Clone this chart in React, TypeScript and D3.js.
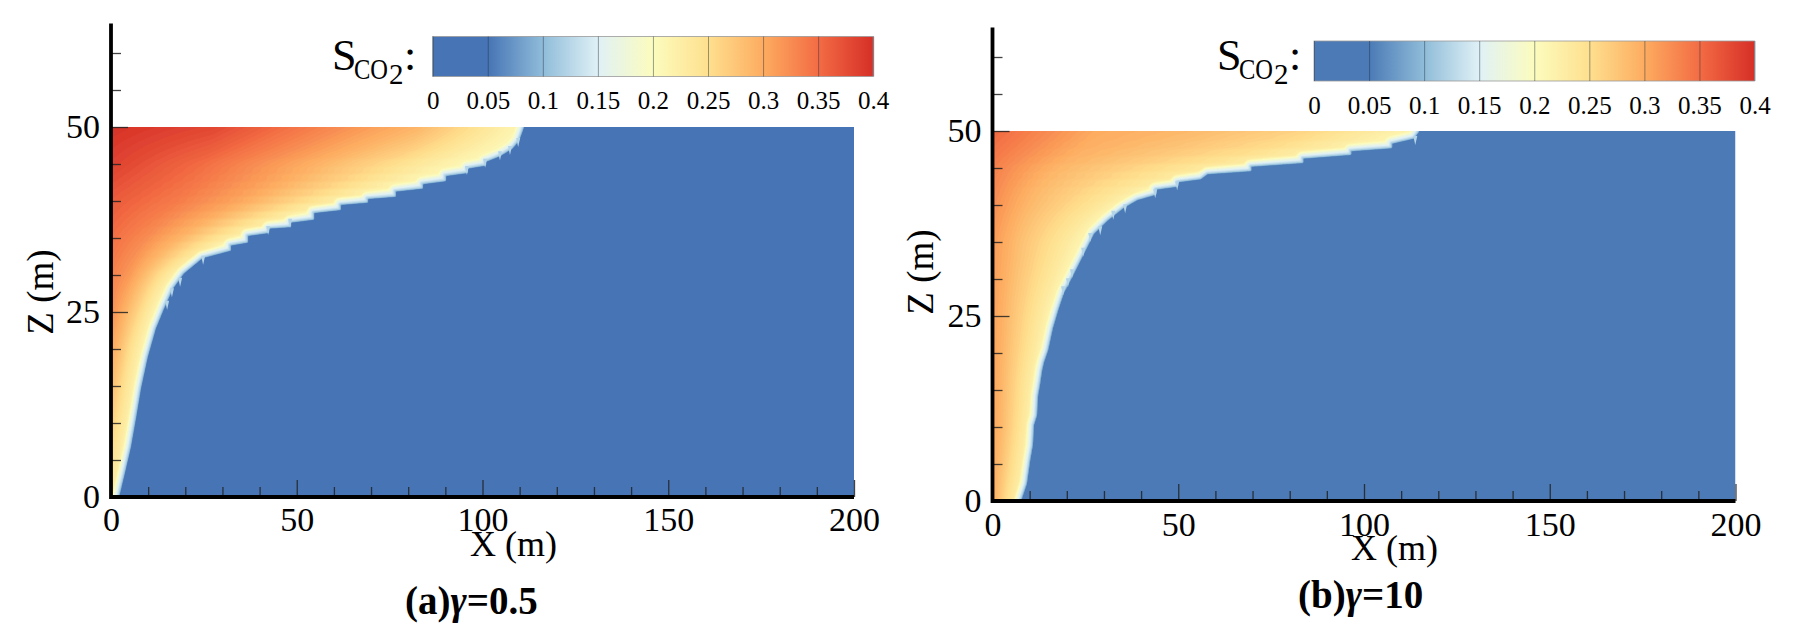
import React, { useEffect, useRef } from 'react';
import * as d3 from 'd3';

// saturation colour bar
const satTicks = [0, 0.05, 0.1, 0.15, 0.2, 0.25, 0.3, 0.35, 0.4];
const satColors = ['#4674b5', '#4674b5', '#8fbcd9', '#e0f1f6', '#fcfcbe', '#fee08f', '#fdac60', '#f36c44', '#d62f27'];

const xMajor = [0, 50, 100, 150, 200];
const xMinor = [10, 20, 30, 40, 60, 70, 80, 90, 110, 120, 130, 140, 160, 170, 180, 190];
const zMajor = [0, 25, 50];
const zMinor = [5, 10, 15, 20, 30, 35, 40, 45, 55, 60];

// fractions of the plume width at which the saturation rows were read
const widthFractions = [0, 0.25, 0.5, 0.75, 1];

// (a) gamma = 0.5
const frontXA = [1.9, 3.2, 5.1, 6.5, 7.8, 9.6, 11.8, 14, 16.4, 19.4, 24.5, 29, 32, 32, 36.6, 36.6, 42.3, 42.3, 48.2, 48.2, 54.4, 54.4, 61.6, 61.6, 68.9, 68.9, 76.4, 76.4, 83.7, 83.7, 89.9, 89.9, 95.8, 95.8, 100.7, 100.7, 104.7, 107.9, 109.6, 110.9];
const frontZA = [0, 2.7, 6.8, 10.8, 14.7, 18.9, 22.8, 25.5, 28.2, 30.3, 32.4, 33, 33.4, 34.1, 34.5, 35.4, 35.8, 36.4, 36.6, 37.2, 37.6, 38.5, 38.9, 39.6, 39.9, 40.4, 40.7, 41.4, 41.8, 42.4, 42.8, 43.5, 43.9, 44.5, 44.9, 45.4, 46.2, 47.2, 48.2, 50];
const teethXA = [109.6, 107.4, 104.7, 100.7, 95.8, 48.2, 42.3, 24.8, 18.6, 16.4, 15.1];
const teethZA = [47.3, 46.2, 45.5, 44.5, 43.5, 36.4, 35.4, 31.4, 28.4, 27, 25.3];
const rowZA = [0, 10, 20, 25, 30, 35, 40, 45, 50];
const satA = [
  [0.23, 0.225, 0.22, 0.21, 0.2],
  [0.27, 0.25, 0.235, 0.22, 0.2],
  [0.305, 0.28, 0.25, 0.225, 0.2],
  [0.325, 0.295, 0.265, 0.23, 0.2],
  [0.335, 0.315, 0.28, 0.24, 0.2],
  [0.35, 0.325, 0.29, 0.245, 0.2],
  [0.365, 0.34, 0.305, 0.255, 0.2],
  [0.385, 0.35, 0.305, 0.255, 0.2],
  [0.398, 0.38, 0.335, 0.29, 0.21],
];

// (b) gamma = 10
const frontXB = [7.4, 9, 9.8, 10.6, 10.9, 11.7, 12, 12.5, 13.1, 13.6, 14.7, 16, 17.4, 19, 21.4, 24.4, 27.1, 30.8, 35.1, 38.9, 43.8, 43.8, 49.7, 49.7, 55.9, 57.8, 69.4, 69.4, 83.4, 83.4, 96.3, 96.3, 107.3, 107.3, 113.3, 114.6];
const frontZB = [0, 2.4, 5.3, 7.6, 10.3, 11.6, 14.3, 15.7, 17.7, 18.8, 20.4, 23.4, 25.8, 28.2, 30.5, 33.5, 36.2, 38, 39.7, 40.8, 41.5, 42.2, 42.6, 43.2, 43.6, 44.3, 44.7, 45.3, 45.8, 46.4, 46.9, 47.4, 47.8, 48.4, 49.1, 50];
const teethXB = [49.7, 43.8, 35.7, 32.5, 29, 26.3, 24.4, 21.4, 20.3, 19, 113.8];
const teethZB = [42, 40.9, 38.9, 38, 35.9, 35, 33, 30.1, 28.9, 27.8, 48.1];
const rowZB = [0, 10, 25, 35, 40, 45, 50];
const satB = [
  [0.3, 0.275, 0.25, 0.23, 0.21],
  [0.305, 0.285, 0.26, 0.235, 0.205],
  [0.31, 0.285, 0.26, 0.235, 0.205],
  [0.315, 0.285, 0.26, 0.235, 0.205],
  [0.325, 0.29, 0.265, 0.24, 0.205],
  [0.335, 0.29, 0.265, 0.24, 0.205],
  [0.355, 0.3, 0.285, 0.26, 0.215],
];

const serif = '"Liberation Serif", "Times New Roman", serif';

function lerpAt(xs: number[], ys: number[], v: number) {
  const i = Math.min(Math.max(d3.bisectRight(xs, v), 1), xs.length - 1);
  const t = (v - xs[i - 1]) / (xs[i] - xs[i - 1] || 1);
  return ys[i - 1] + (ys[i] - ys[i - 1]) * t;
}

function drawPanel(svg: any, p: any) {
  const x = d3.scaleLinear().domain([0, 200]).range([p.left, p.left + 743]);
  const z = d3.scaleLinear().domain([0, 50]).range([p.bottom, p.bottom - 370]);
  const color = d3.scaleLinear<string>().domain(satTicks).range(p.colors);

  const clipId = 'clip' + p.id;
  svg.append('clipPath').attr('id', clipId).append('rect')
    .attr('x', x(0)).attr('y', z(50)).attr('width', x(200) - x(0)).attr('height', z(0) - z(50));

  const plot = svg.append('g').attr('clip-path', `url(#${clipId})`);
  plot.append('rect')
    .attr('x', x(0)).attr('y', z(50)).attr('width', x(200) - x(0)).attr('height', z(0) - z(50))
    .attr('fill', p.colors[0]);

  // Saturation field on a one pixel grid, then filled contours
  const pad = 3;
  const n = Math.ceil(x(125) - x(0)) + pad;
  const m = Math.ceil(z(0) - z(50)) + pad * 2;
  const fx = p.frontX.map((d: number) => x(d));
  const fy = p.frontZ.map((d: number) => z(d));
  const values = new Float64Array(n * m);
  for (let j = 0; j < m; j++) {
    const py = Math.max(z(50) + j - pad, z(50));
    const zv = z.invert(py);
    const xf = lerpAt(p.frontZ, p.frontX, zv);
    // the stairs of the front should not print into the colours, so the width is averaged
    const xfSoft = d3.mean([-2, -1, 0, 1, 2], (o: number) => lerpAt(p.frontZ, p.frontX, Math.max(0, Math.min(50, zv + o)))) as number;
    const column = widthFractions.map((_, c) => lerpAt(p.rowZ, p.sat.map((r: number[]) => r[c]), zv));
    for (let i = 0; i < n; i++) {
      const px = Math.max(x(0) + i - pad, x(0));
      const xv = x.invert(px);
      let dist = 1e9;
      for (let k = 1; k < fx.length; k++) {
        const ax = fx[k - 1], ay = fy[k - 1];
        const bx = fx[k] - ax, by = fy[k] - ay;
        const t = Math.max(0, Math.min(1, ((px - ax) * bx + (py - ay) * by) / (bx * bx + by * by || 1)));
        const dd = Math.hypot(px - ax - t * bx, py - ay - t * by);
        if (dd < dist) dist = dd;
      }
      let s = 0;
      if (xv <= xf) {
        const base = lerpAt(widthFractions, column, Math.min(1, xv / xfSoft));
        s = dist >= 7 ? base : 0.12 + (base - 0.12) * (dist / 7);
      } else if (dist < 1.5) {
        s = 0.12 - 0.07 * (dist / 1.5);
      }
      values[j * n + i] = s;
    }
  }

  const thresholds = d3.range(0.05, 0.4, 0.004);
  const contours = d3.contours().size([n, m]).smooth(true).thresholds(thresholds)(values as any);
  const path = d3.geoPath();
  const field = plot.append('g').attr('filter', 'url(#soft)');
  field.append('g')
    .attr('transform', `translate(${x(0) - pad - 0.5},${z(50) - pad - 0.5})`)
    .selectAll('path')
    .data(contours)
    .join('path')
    .attr('d', (d: any) => path(d))
    .attr('fill', (d: any) => color(d.value + 0.002));

  // little spikes below the stair steps of the front
  field.append('g')
    .selectAll('path')
    .data(p.teethX.map((d: number, i: number) => [d, p.teethZ[i]]))
    .join('path')
    .attr('d', (d: number[]) => {
      const tx = x(d[0]), tz = z(d[1]);
      return `M${tx - 2},${tz - 9}L${tx},${tz}L${tx + 2},${tz - 9}Z`;
    })
    .attr('fill', '#b4d5e8');

  // Axes
  const tickStyle = (g: any) => {
    g.select('.domain').remove();
    g.attr('font-family', serif).attr('font-size', 34).attr('fill', '#000');
    g.selectAll('line').attr('stroke', '#222').attr('stroke-width', 1.3).attr('stroke-opacity', 0.85);
  };
  svg.append('g').attr('transform', `translate(0,${z(0)})`)
    .call(d3.axisBottom(x).tickValues(xMajor).tickSize(-17).tickPadding(p.xPad).tickFormat(d3.format('d') as any))
    .call(tickStyle);
  svg.append('g').attr('transform', `translate(0,${z(0)})`)
    .call(d3.axisBottom(x).tickValues(xMinor).tickSize(-10).tickFormat(() => ''))
    .call(tickStyle);
  svg.append('g').attr('transform', `translate(${x(0)},0)`)
    .call(d3.axisLeft(z).tickValues(zMajor).tickSize(-17).tickPadding(11).tickFormat(d3.format('d') as any))
    .call(tickStyle);
  svg.append('g').attr('transform', `translate(${x(0)},0)`)
    .call(d3.axisLeft(z).tickValues(zMinor).tickSize(-10).tickFormat(() => ''))
    .call(tickStyle);

  svg.append('line').attr('x1', x(0)).attr('x2', x(0)).attr('y1', z(64)).attr('y2', z(0) + 2)
    .attr('stroke', '#000').attr('stroke-width', 3.8);
  svg.append('line').attr('x1', x(0)).attr('x2', x(200)).attr('y1', z(0)).attr('y2', z(0))
    .attr('stroke', '#000').attr('stroke-width', 3.8);

  // Axis titles
  svg.append('text').attr('x', p.xTitle).attr('y', p.xTitleY)
    .attr('font-family', serif).attr('font-size', 36).attr('fill', '#000').text('X (m)');
  svg.append('text')
    .attr('transform', `translate(${p.zTitleX},${p.zTitleY}) rotate(-90)`)
    .attr('text-anchor', 'middle')
    .attr('font-family', serif).attr('font-size', 37).attr('fill', '#000').text('Z (m)');

  // Colour bar
  const bar = d3.scaleLinear().domain([0, 0.4]).range([p.barLeft, p.barLeft + 440.5]);
  const gradId = 'grad' + p.id;
  const grad = svg.append('linearGradient').attr('id', gradId);
  satTicks.forEach((t, i) => {
    grad.append('stop').attr('offset', `${(t / 0.4) * 100}%`).attr('stop-color', p.colors[i]);
  });
  svg.append('rect')
    .attr('x', bar(0)).attr('y', p.barTop).attr('width', bar(0.4) - bar(0)).attr('height', 40)
    .attr('fill', `url(#${gradId})`).attr('stroke', '#9a9a9a').attr('stroke-width', 0.8);
  svg.append('g').attr('transform', `translate(0,${p.barTop + 40})`)
    .call(d3.axisBottom(bar).tickValues(satTicks).tickSize(-40).tickPadding(15).tickFormat((d: any) => String(d)))
    .call((g: any) => {
      g.select('.domain').remove();
      g.attr('font-family', serif).attr('font-size', 25).attr('fill', '#000');
      g.selectAll('line').attr('stroke', '#1f2f3f').attr('stroke-width', 1).attr('stroke-opacity', 0.45);
    });

  // Colour bar title
  const lx = p.labelX;
  const label = svg.append('g').attr('font-family', serif).attr('fill', '#000');
  label.append('text').attr('x', lx).attr('y', 70).attr('font-size', 44).text('S');
  label.append('text').attr('x', lx + 22).attr('y', 79).attr('font-size', 29).attr('textLength', 34).attr('lengthAdjust', 'spacingAndGlyphs').text('CO');
  label.append('text').attr('x', lx + 57).attr('y', 84).attr('font-size', 29).text('2');
  label.append('text').attr('x', lx + 72).attr('y', 70).attr('font-size', 44).text(':');

  // Caption
  const cap = svg.append('text').attr('x', p.capX).attr('y', p.capY)
    .attr('font-family', serif).attr('font-size', 39).attr('font-weight', 700).attr('fill', '#000');
  cap.append('tspan').text(p.capA);
  cap.append('tspan').attr('font-style', 'italic').text('γ');
  cap.append('tspan').text(p.capB);
}

export default function App() {
  const ref = useRef<SVGSVGElement>(null);

  useEffect(() => {
    const svg = d3.select(ref.current);
    svg.selectAll('*').remove();
    svg.append('filter').attr('id', 'soft').attr('x', '-2%').attr('y', '-2%').attr('width', '104%').attr('height', '104%')
      .append('feGaussianBlur').attr('stdDeviation', 0.7);

    drawPanel(svg, {
      id: 'a', left: 111, bottom: 497, colors: satColors,
      frontX: frontXA, frontZ: frontZA, teethX: teethXA, teethZ: teethZA, rowZ: rowZA, sat: satA,
      xPad: 9.6, xTitle: 470, xTitleY: 556, zTitleX: 53, zTitleY: 292,
      barLeft: 432.7, barTop: 36.5, labelX: 332,
      capX: 405, capY: 614, capA: '(a)', capB: '=0.5',
    });
    drawPanel(svg, {
      id: 'b', left: 992.5, bottom: 501, colors: ['#4b7ab6', '#4b7ab6', ...satColors.slice(2)],
      frontX: frontXB, frontZ: frontZB, teethX: teethXB, teethZ: teethZB, rowZ: rowZB, sat: satB,
      xPad: 10.5, xTitle: 1351, xTitleY: 560, zTitleX: 933, zTitleY: 272,
      barLeft: 1314, barTop: 41, labelX: 1217,
      capX: 1298, capY: 608, capA: '(b)', capB: '=10',
    });
  }, []);

  return (
    <svg ref={ref} width={1796} height={644} style={{ position: 'absolute', left: 0, top: 0, background: '#fff' }} />
  );
}
